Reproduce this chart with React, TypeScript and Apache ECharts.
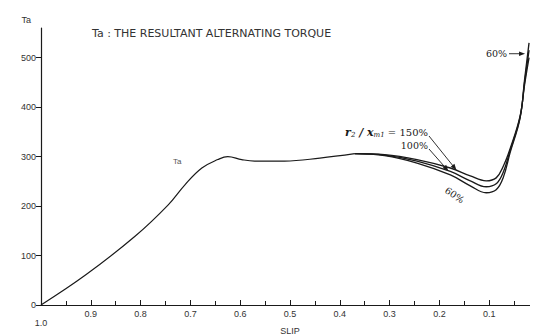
import React, { useEffect, useRef } from "react";
import * as echarts from "echarts";

const xTicks = [1.0, 0.9, 0.8, 0.7, 0.6, 0.5, 0.4, 0.3, 0.2, 0.1];
const yTicks = [0, 100, 200, 300, 400, 500];

const slipCommon = [1.0, 0.91, 0.81, 0.745, 0.711, 0.677, 0.645, 0.625, 0.597, 0.571, 0.511, 0.44, 0.37];
const taCommon = [0, 61, 140, 202, 243, 277, 294, 300, 294, 291, 291, 297, 306];

const slipBranch = [0.37, 0.31, 0.245, 0.178, 0.138, 0.106, 0.086, 0.072, 0.058, 0.038, 0.029, 0.02];
const ta150 = [306, 304, 294, 277, 261, 251, 257, 280, 316, 382, 445, 500];
const ta100 = [306, 303, 291, 270, 251, 239, 245, 268, 312, 380, 450, 515];
const ta60 = [306, 302, 287, 263, 241, 227, 233, 257, 308, 378, 455, 530];

const FONT = "Liberation Sans";
const INK = "#1a1a1a";
const TXT = "#333";

function pairs(xs: number[], ys: number[]) {
  return xs.map((x, i) => [x, ys[i]]);
}

function arrow(a: number[], b: number[], head = 6, w = 2.4) {
  const dx = b[0] - a[0];
  const dy = b[1] - a[1];
  const L = Math.hypot(dx, dy) || 1;
  const ux = dx / L, uy = dy / L;
  const nx = -uy, ny = ux;
  return [
    { type: "line", shape: { x1: a[0], y1: a[1], x2: b[0] - ux * head * 0.6, y2: b[1] - uy * head * 0.6 }, style: { stroke: INK, lineWidth: 0.9 } },
    {
      type: "polygon",
      shape: {
        points: [
          [b[0], b[1]],
          [b[0] - ux * head + nx * w, b[1] - uy * head + ny * w],
          [b[0] - ux * head - nx * w, b[1] - uy * head - ny * w],
        ],
      },
      style: { fill: INK },
    },
  ];
}

export default function App() {
  const ref = useRef<HTMLDivElement>(null);
  useEffect(() => {
    if (!ref.current) return;
    const chart = echarts.init(ref.current, null, { renderer: "svg" });
    const lineStyle = { color: INK, width: 1.35 };
    chart.setOption({
      animation: false,
      backgroundColor: "#fff",
      grid: { left: 33, right: 7, top: 20, bottom: 39, containLabel: false, outerBoundsMode: "none" },
      xAxis: {
        type: "value",
        inverse: true,
        min: 0,
        max: 1,
        interval: 0.1,
        name: "SLIP",
        nameLocation: "middle",
        nameGap: 21,
        nameMoveOverlap: false,
        nameTextStyle: { fontFamily: FONT, fontSize: 9, color: TXT },
        axisLine: { show: true, onZero: false, lineStyle: { color: INK, width: 1.2 } },
        axisTick: { show: true, inside: true, length: 5, lineStyle: { color: INK } },
        minorTick: { show: true, splitNumber: 2, length: 4, lineStyle: { color: INK } },
        splitLine: { show: false },
        axisLabel: {
          customValues: xTicks,
          fontFamily: FONT,
          fontSize: 9,
          lineHeight: 9,
          color: TXT,
          margin: 4,
          formatter: (v: number) => (v === 1 ? "\n1.0" : v.toFixed(1)),
        },
      },
      yAxis: {
        type: "value",
        position: "left",
        min: 0,
        max: 560,
        interval: 100,
        name: "Ta",
        nameLocation: "end",
        nameGap: 4,
        nameTextStyle: { fontFamily: FONT, fontSize: 9, color: TXT, align: "right", padding: [0, 10, 0, 0] },
        axisLine: { show: true, onZero: false, lineStyle: { color: INK, width: 1.2 } },
        axisTick: { show: true, customValues: yTicks, length: 5, lineStyle: { color: INK } },
        splitLine: { show: false },
        axisLabel: { customValues: yTicks, fontFamily: FONT, fontSize: 9, color: TXT, margin: 5 },
      },
      series: [
        { type: "line", name: "Ta", data: pairs(slipCommon, taCommon), smooth: 0.4, showSymbol: false, lineStyle: { ...lineStyle, width: 1.2 } },
        { type: "line", name: "150%", data: pairs(slipBranch, ta150), smooth: 0.4, showSymbol: false, lineStyle },
        { type: "line", name: "100%", data: pairs(slipBranch, ta100), smooth: 0.4, showSymbol: false, lineStyle },
        { type: "line", name: "60%", data: pairs(slipBranch, ta60), smooth: 0.4, showSymbol: false, lineStyle },
      ],
    });

    const p = (s: number, v: number) => chart.convertToPixel({ gridIndex: 0 }, [s, v]) as number[];
    const t150 = p(slipBranch[3] - 0.012, ta150[3] - 4);
    const t100 = p(slipBranch[3] + 0.004, ta100[3] + 1);
    const tipPt = p(0.024, 508);
    const taLbl = p(0.735, 290);

    const graphic: any[] = [
      {
        type: "text",
        x: 84,
        y: 25,
        style: { text: "Ta : THE RESULTANT ALTERNATING TORQUE", fontFamily: "DejaVu Sans", fontSize: 11, fill: TXT, verticalAlign: "middle" },
      },
      {
        type: "text",
        x: 529,
        y: 302,
        style: { text: "0", fontFamily: FONT, fontSize: 9, fill: TXT, align: "center", verticalAlign: "top" },
      },
      {
        type: "text",
        x: taLbl[0],
        y: taLbl[1],
        style: { text: "Ta", fontFamily: FONT, fontSize: 8, fill: "#555", verticalAlign: "middle" },
      },
      {
        type: "text",
        x: 420,
        y: 124,
        style: {
          text: "{i|r}{s|2}{i| / }{b|x}{s|m1}{n| = 150%}",
          align: "right",
          verticalAlign: "middle",
          rich: {
            i: { fontFamily: "DejaVu Serif", fontStyle: "italic", fontWeight: "bold", fontSize: 11, fill: INK },
            b: { fontFamily: "DejaVu Serif", fontStyle: "italic", fontWeight: "bold", fontSize: 11, fill: INK },
            s: { fontFamily: "DejaVu Serif", fontStyle: "italic", fontSize: 7, fill: INK, padding: [6, 0, 0, 0] },
            n: { fontFamily: "DejaVu Serif", fontSize: 10, fill: INK },
          },
        },
      },
      {
        type: "text",
        x: 420,
        y: 137,
        style: { text: "100%", fontFamily: "DejaVu Serif", fontSize: 9.5, fill: INK, align: "right", verticalAlign: "middle" },
      },
      {
        type: "text",
        x: 438,
        y: 181,
        rotation: -0.6,
        style: { text: "60%", fontFamily: "DejaVu Serif", fontSize: 9.5, fill: INK, align: "left", verticalAlign: "middle" },
      },
      {
        type: "text",
        x: 499,
        y: tipPt[1],
        style: { text: "60%", fontFamily: "DejaVu Serif", fontSize: 9.5, fill: INK, align: "right", verticalAlign: "middle" },
      },
      ...arrow([421, 128], t150),
      ...arrow([421, 141], t100),
      ...arrow([501, tipPt[1]], [tipPt[0] - 2, tipPt[1]], 6, 2.2),
    ];
    chart.setOption({ graphic });
    return () => chart.dispose();
  }, []);
  return <div ref={ref} style={{ width: 538, height: 336 }} />;
}
